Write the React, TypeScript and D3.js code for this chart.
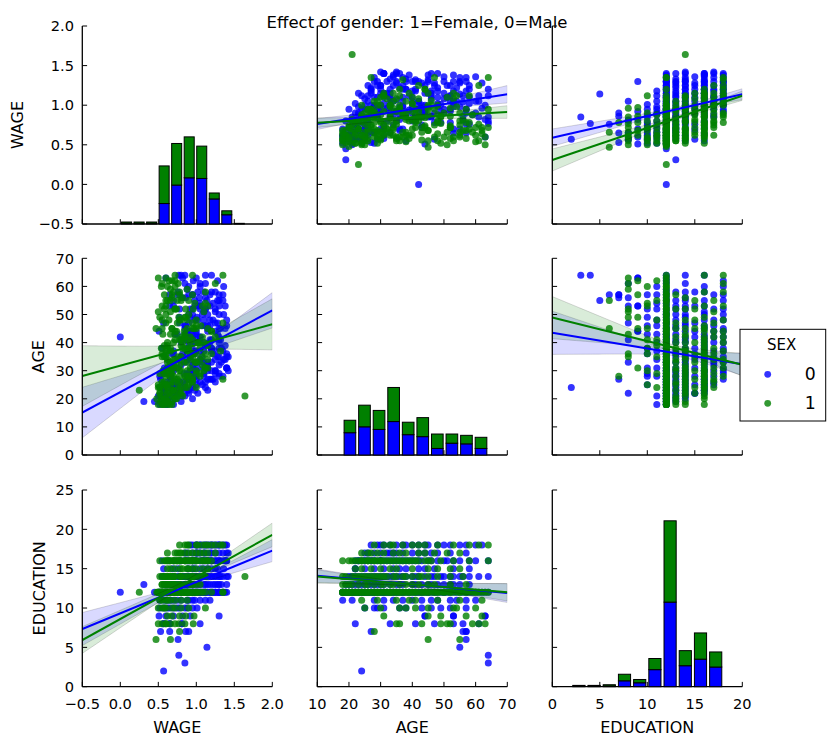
import React from "react";
import * as d3 from "d3";

// ---------- canvas / layout ----------
const W = 834;
const H = 750;
const FONT = "'DejaVu Sans', sans-serif";
const COL_LEFT = [82.3, 317.3, 552.3];
const CELL_W = 190;
const ROW_TOP = [26, 258.3, 490];
const ROW_BOTTOM = [224, 455, 686.7];

// ---------- categories ----------
const TITLE = "Effect of gender: 1=Female, 0=Male";
const VARIABLES = ["WAGE", "AGE", "EDUCATION"];
const SEX_LEVELS = ["0", "1"];
const SEX_COLORS = ["#0000ff", "#008000"];

// ---------- axes ----------
const X_DOMAINS = [[-0.5, 2.0], [10, 70], [0, 20]];
const Y_DOMAINS = [[-0.5, 2.0], [0, 70], [0, 25]];
const X_TICKS = [[-0.5, 0, 0.5, 1, 1.5, 2], [10, 20, 30, 40, 50, 60, 70], [0, 5, 10, 15, 20]];
const X_TICK_LABELS = [["−0.5", "0.0", "0.5", "1.0", "1.5", "2.0"], ["10", "20", "30", "40", "50", "60", "70"], ["0", "5", "10", "15", "20"]];
const Y_TICKS = [[-0.5, 0, 0.5, 1, 1.5, 2], [0, 10, 20, 30, 40, 50, 60, 70], [0, 5, 10, 15, 20, 25]];
const Y_TICK_LABELS = [["−0.5", "0.0", "0.5", "1.0", "1.5", "2.0"], ["0", "10", "20", "30", "40", "50", "60", "70"], ["0", "5", "10", "15", "20", "25"]];

// ---------- diagonal histograms (10 bins, stacked: SEX 0 then SEX 1) ----------
const HIST_RANGES = [[0, 1.6484], [18, 64], [2, 18]];
const HIST_COUNT_MAX = 300;
const WAGE_HIST_MALE = [1, 1, 1, 31, 59, 70, 69, 38, 14, 0];
const WAGE_HIST_FEMALE = [2, 2, 2, 57, 63, 62, 49, 9, 6, 1];
const AGE_HIST_MALE = [34, 43, 39, 51, 31, 28, 10, 18, 17, 10];
const AGE_HIST_FEMALE = [19, 33, 29, 52, 19, 29, 22, 14, 13, 17];
const EDU_HIST_MALE = [1, 1, 1, 9, 6, 26, 129, 32, 42, 30];
const EDU_HIST_FEMALE = [1, 1, 2, 10, 5, 17, 124, 23, 40, 23];

// ---------- scatter data: [EDUCATION, [[AGE, WAGE], ...]] ----------
const MALE_GROUPS: [number, number[][]][] = [
  [2, [[24, 0.57]]],
  [3, [[64, 0.85]]],
  [4, [[64, 0.77]]],
  [5, [[55, 1.14]]],
  [6, [[57, 0.76]]],
  [7, [[57, 0.9], [56, 0.86], [27, 0.53], [57, 0.65]]],
  [8, [[61, 1.05], [56, 0.81], [53, 0.65], [47, 0.57], [41, 0.81], [33, 0.65], [22, 0.57]]],
  [9, [[63, 0.82], [53, 1.3], [44, 0.51], [44, 0.92], [63, 0.6], [53, 0.7]]],
  [10, [[57, 0.95], [49, 1.01], [46, 0.85], [43, 0.75], [36, 0.7], [31, 0.62], [29, 0.57], [28, 0.52], [25, 0.65], [38, 0.88], [52, 0.78]]],
  [11, [[57, 1.18], [54, 1.05], [52, 0.95], [46, 1.12], [43, 0.88], [37, 0.7], [34, 0.75], [31, 0.58], [21, 0.52], [18, 0.62], [40, 0.8], [28, 0.66], [48, 0.98], [60, 0.9]]],
  [12, [[18, 0.52], [18, 0.6], [19, 0.66], [19, 0.45], [20, 0.55], [20, 0.72], [21, 0.62], [21, 0.8], [22, 0.58], [22, 0.9], [23, 0.68], [23, 0.75], [24, 0.85], [24, 0.62], [25, 0.95], [25, 0.7], [26, 1.05], [26, 0.78], [27, 0.88], [27, 1.18], [28, 0.98], [28, 0.66], [29, 1.1], [29, 0.84], [30, 1.25], [30, 0.92], [31, 1.02], [31, 0.74], [32, 1.3], [32, 0.96], [33, 1.15], [34, 0.88], [34, 1.38], [35, 1.07], [36, 0.82], [36, 1.22], [37, 0.99], [38, 1.33], [39, 1.12], [40, 0.9], [41, 1.2], [42, 0.0], [42, 1.05], [43, 1.28], [44, 0.95], [45, 1.15], [46, 0.86], [47, 1.25], [48, 1.02], [49, 0.78], [50, 1.36], [51, 1.1], [52, 0.92], [53, 1.18], [55, 0.7], [56, 1.04], [57, 1.3], [59, 0.88], [61, 1.12], [62, 0.96], [64, 0.8],
    [18, 0.7], [19, 0.8], [20, 0.95], [21, 0.5], [22, 1.02], [23, 0.88], [24, 1.12], [25, 0.58], [26, 1.25], [27, 0.66], [28, 1.35], [30, 0.7], [31, 1.4], [33, 0.86], [35, 1.3], [37, 1.2], [39, 0.94], [41, 0.85], [43, 1.0], [45, 1.3], [47, 0.9], [50, 1.08], [54, 1.22], [58, 1.1], [63, 1.0]]],
  [13, [[19, 0.31], [20, 0.58], [22, 0.7], [24, 0.85], [26, 0.62], [28, 1.1], [30, 0.95], [33, 1.33], [35, 0.8], [37, 1.25], [40, 1.05], [43, 0.72], [46, 1.18], [50, 0.9], [53, 1.02], [55, 1.28], [58, 0.76], [48, 1.4],
    [21, 0.66], [23, 0.98], [25, 0.75], [27, 1.22], [29, 0.88], [31, 1.15], [36, 0.68], [41, 1.3], [45, 0.85], [52, 1.12]]],
  [14, [[20, 0.62], [22, 0.75], [23, 0.9], [24, 0.55], [25, 1.0], [26, 0.82], [27, 1.15], [29, 0.95], [30, 1.42], [31, 0.7], [33, 1.2], [34, 1.05], [36, 0.88], [38, 1.3], [40, 1.1], [42, 0.92], [44, 1.25], [47, 0.78], [50, 1.15], [53, 0.98], [55, 1.35], [58, 1.02], [61, 0.85], [64, 1.2],
    [21, 0.85], [28, 1.3], [32, 0.8], [35, 1.4], [37, 0.98], [41, 1.32], [46, 1.08], [49, 0.92], [52, 1.25], [56, 1.12]]],
  [15, [[22, 0.57], [25, 0.69], [28, 0.89], [31, 1.1], [34, 1.36], [38, 1.2], [42, 0.95], [47, 1.28], [53, 1.05], [22, 0.76], [36, 0.98], [44, 1.15], [58, 1.25]]],
  [16, [[22, 0.64], [23, 0.8], [24, 0.95], [25, 1.08], [26, 0.72], [27, 1.2], [28, 0.88], [29, 1.3], [30, 1.0], [31, 1.4], [32, 1.15], [34, 0.92], [35, 1.28], [37, 1.05], [39, 1.38], [41, 1.18], [43, 0.85], [45, 1.32], [48, 1.1], [51, 1.25], [55, 0.98], [60, 1.36], [64, 1.12], [38, 0.55],
    [23, 1.15], [25, 0.78], [27, 0.9], [30, 1.25], [33, 1.08], [36, 1.4], [40, 0.98], [42, 1.3], [46, 1.15], [50, 0.95], [53, 1.38], [58, 1.2]]],
  [17, [[25, 0.85], [28, 1.0], [30, 1.2], [32, 0.95], [35, 1.42], [37, 1.1], [40, 1.3], [44, 0.88], [48, 1.18], [52, 1.05], [57, 1.35], [33, 1.02], [26, 1.12], [34, 1.25], [42, 1.0], [46, 1.4]]],
  [18, [[27, 1.0], [29, 1.25], [31, 1.4], [33, 1.1], [35, 0.92], [37, 1.35], [40, 1.18], [42, 1.05], [45, 1.38], [48, 1.22], [52, 1.12], [55, 1.3], [57, 0.95], [62, 1.28], [30, 1.15], [38, 1.2], [44, 1.0], [50, 1.3], [60, 1.05]]],
];

const FEMALE_GROUPS: [number, number[][]][] = [
  [6, [[55, 0.66], [45, 0.47]]],
  [7, [[28, 0.78]]],
  [8, [[63, 0.6], [61, 0.55], [59, 0.66], [52, 0.72], [51, 0.5], [49, 0.77], [43, 0.85], [36, 0.96], [35, 0.6]]],
  [9, [[62, 0.68], [57, 0.78], [49, 0.86], [45, 0.97], [31, 0.62]]],
  [10, [[60, 0.72], [54, 1.12], [53, 0.6], [41, 0.8], [36, 0.55], [25, 0.5], [45, 0.68], [38, 0.9], [30, 0.58]]],
  [11, [[62, 0.72], [41, 0.88], [39, 0.62], [35, 0.55], [29, 0.66], [48, 0.8], [24, 0.52], [55, 0.6]]],
  [12, [[18, 0.5], [18, 0.56], [18, 0.62], [19, 0.53], [19, 0.68], [20, 0.48], [20, 0.6], [20, 0.74], [21, 0.55], [21, 0.82], [22, 0.64], [22, 0.52], [23, 0.25], [23, 0.7], [23, 0.58], [24, 0.88], [24, 0.62], [25, 0.76], [25, 0.55], [26, 0.94], [26, 0.66], [27, 0.72], [27, 1.35], [28, 0.6], [28, 0.85], [29, 1.0], [29, 0.68], [30, 0.78], [30, 0.56], [31, 0.92], [32, 0.7], [32, 1.08], [33, 0.62], [33, 0.84], [34, 0.96], [35, 0.58], [35, 0.76], [36, 1.12], [37, 0.66], [37, 0.88], [38, 0.54], [39, 0.8], [40, 1.02], [40, 0.62], [41, 0.72], [42, 0.92], [43, 0.56], [44, 0.84], [45, 0.68], [46, 1.06], [47, 0.6], [47, 1.35], [48, 0.78], [49, 0.52], [50, 0.9], [51, 0.66], [52, 0.74], [53, 0.55], [54, 0.98], [55, 0.62], [56, 0.82], [57, 0.58], [58, 0.7], [59, 0.88], [60, 0.54], [61, 0.76], [62, 0.64], [63, 0.5], [64, 0.72], [44, 1.2],
    [18, 0.68], [19, 0.6], [20, 0.54], [21, 0.7], [22, 0.78], [24, 0.5], [25, 0.9], [26, 0.58], [28, 0.7], [29, 0.52], [31, 0.64], [33, 1.0], [34, 0.72], [36, 0.6], [38, 0.82], [39, 0.58], [41, 0.95], [43, 0.66], [45, 0.55], [48, 0.64], [50, 0.6], [52, 0.86], [55, 0.75], [57, 0.68], [60, 0.62]]],
  [13, [[18, 0.55], [21, 0.66], [23, 0.78], [25, 0.6], [28, 0.92], [31, 0.7], [34, 1.05], [38, 0.62], [42, 0.85], [47, 0.75], [52, 0.58], [57, 0.95],
    [19, 0.62], [20, 0.72], [26, 0.55], [30, 0.8], [33, 0.66], [36, 0.95], [40, 0.7], [45, 1.0]]],
  [14, [[21, 1.64], [18, 0.58], [23, 0.7], [24, 0.52], [26, 0.85], [28, 0.65], [30, 1.0], [32, 0.78], [35, 0.92], [37, 0.6], [40, 1.1], [43, 0.72], [45, 0.88], [48, 0.55], [52, 0.96], [56, 0.68],
    [19, 0.62], [22, 0.8], [25, 0.66], [27, 0.95], [29, 0.58], [31, 1.12], [34, 0.7], [38, 1.05], [42, 0.8]]],
  [15, [[24, 0.79], [27, 0.95], [30, 0.66], [35, 1.08], [40, 0.82], [45, 1.15], [52, 0.72], [55, 0.9], [22, 0.62], [33, 0.88], [48, 1.0]]],
  [16, [[18, 0.65], [22, 0.52], [23, 0.7], [24, 0.85], [25, 0.6], [26, 0.95], [27, 0.75], [28, 1.05], [29, 0.62], [30, 0.88], [31, 1.12], [32, 0.7], [33, 0.98], [35, 0.8], [36, 1.2], [38, 0.66], [40, 0.92], [42, 1.08], [44, 0.74], [46, 1.0], [49, 0.85], [53, 1.15], [58, 0.78], [64, 0.95],
    [20, 0.58], [21, 0.75], [24, 1.0], [26, 0.7], [28, 0.86], [30, 1.1], [34, 0.62], [37, 0.9], [39, 1.15], [41, 0.78], [45, 0.95]]],
  [17, [[24, 0.62], [27, 0.9], [29, 1.05], [31, 0.75], [34, 1.15], [38, 0.85], [42, 1.25], [47, 0.95], [51, 1.1], [55, 0.8], [26, 0.78], [36, 1.0], [44, 0.72]]],
  [18, [[28, 0.9], [31, 1.15], [34, 0.78], [37, 1.32], [40, 1.02], [44, 1.2], [48, 0.88], [53, 1.08], [61, 1.25], [64, 1.35], [33, 1.0], [42, 0.85], [58, 1.12]]],
];

// ---------- regression fits ----------
// [row, col, sex, yAtXmin, yAtXmax, xMean, halfAtMean, halfAtXmin, halfAtXmax]
const REG_FITS: number[][] = [
  [0, 1, 0, 0.763, 1.138, 37, 0.025, 0.07, 0.11],
  [0, 1, 1, 0.779, 0.914, 37, 0.025, 0.06, 0.08],
  [0, 2, 0, 0.59, 1.138, 13, 0.025, 0.11, 0.07],
  [0, 2, 1, 0.308, 1.12, 13, 0.025, 0.14, 0.06],
  [1, 0, 0, 15.1, 51.5, 0.88, 1.2, 9, 6.3],
  [1, 0, 1, 28.1, 46.5, 0.88, 1.5, 10.8, 9.1],
  [1, 2, 0, 43.5, 32.3, 13, 1.0, 7.7, 4],
  [1, 2, 1, 48.9, 32.1, 13, 1.0, 7.5, 4],
  [2, 0, 0, 7.33, 17.3, 0.88, 0.3, 2.1, 1.4],
  [2, 0, 1, 5.93, 19.3, 0.88, 0.3, 1.7, 1.5],
  [2, 1, 0, 14.1, 11.9, 37, 0.25, 0.85, 1.2],
  [2, 1, 1, 14.0, 12.0, 37, 0.25, 0.85, 1.1],
];

// records as [WAGE, AGE, EDUCATION]
function flatten(groups: [number, number[][]][]) {
  const out: number[][] = [];
  groups.forEach(([edu, pts]) => pts.forEach(([age, wage]) => out.push([wage, age, edu])));
  return out;
}
const RECORDS = [flatten(MALE_GROUPS), flatten(FEMALE_GROUPS)];
const HIST_MALE = [WAGE_HIST_MALE, AGE_HIST_MALE, EDU_HIST_MALE];
const HIST_FEMALE = [WAGE_HIST_FEMALE, AGE_HIST_FEMALE, EDU_HIST_FEMALE];

const TICK_LEN = 4.8;
const TICK_FS = 14.6;
const LABEL_FS = 16;
const SPINE_W = 1.3;

function scales(r: number, c: number) {
  const x = d3.scaleLinear().domain(X_DOMAINS[c]).range([COL_LEFT[c], COL_LEFT[c] + CELL_W]);
  const y = d3.scaleLinear().domain(Y_DOMAINS[r]).range([ROW_BOTTOM[r], ROW_TOP[r]]);
  return { x, y };
}

function Axes({ r, c }: { r: number; c: number }) {
  const { x, y } = scales(r, c);
  const x0 = COL_LEFT[c];
  const x1 = COL_LEFT[c] + CELL_W;
  const yb = ROW_BOTTOM[r];
  const yt = ROW_TOP[r];
  return (
    <g>
      <line x1={x0} x2={x1} y1={yb} y2={yb} stroke="#000" strokeWidth={SPINE_W} />
      <line x1={x0} x2={x0} y1={yt} y2={yb} stroke="#000" strokeWidth={SPINE_W} />
      {X_TICKS[c].map((t, i) => (
        <g key={"xt" + i}>
          <line x1={x(t)} x2={x(t)} y1={yb} y2={yb - TICK_LEN} stroke="#000" strokeWidth={1} />
          {r === 2 && (
            <text x={x(t)} y={yb + 22} textAnchor="middle" fontSize={TICK_FS} fontFamily={FONT}>
              {X_TICK_LABELS[c][i]}
            </text>
          )}
        </g>
      ))}
      {Y_TICKS[r].map((t, i) => (
        <g key={"yt" + i}>
          <line x1={x0} x2={x0 + TICK_LEN} y1={y(t)} y2={y(t)} stroke="#000" strokeWidth={1} />
          {c === 0 && (
            <text x={x0 - 8.3} y={y(t) + 5.2} textAnchor="end" fontSize={TICK_FS} fontFamily={FONT}>
              {Y_TICK_LABELS[r][i]}
            </text>
          )}
        </g>
      ))}
    </g>
  );
}

function Hist({ i }: { i: number }) {
  const { x } = scales(i, i);
  const hy = d3.scaleLinear().domain([0, HIST_COUNT_MAX]).range([ROW_BOTTOM[i], ROW_TOP[i]]);
  const [lo, hi] = HIST_RANGES[i];
  const bw = (hi - lo) / HIST_MALE[i].length;
  return (
    <g>
      {HIST_MALE[i].map((m, k) => {
        const f = HIST_FEMALE[i][k];
        const bx0 = x(lo + bw * (k + 0.1));
        const bx1 = x(lo + bw * (k + 0.9));
        return (
          <g key={k}>
            <rect x={bx0} y={hy(m)} width={bx1 - bx0} height={hy(0) - hy(m)} fill={SEX_COLORS[0]} stroke="#000" strokeWidth={1} />
            <rect x={bx0} y={hy(m + f)} width={bx1 - bx0} height={hy(m) - hy(m + f)} fill={SEX_COLORS[1]} stroke="#000" strokeWidth={1} />
          </g>
        );
      })}
    </g>
  );
}

function Band({ fit }: { fit: number[] }) {
  const [r, c, sex, yL, yR, xm, h0, hL, hR] = fit;
  const { x, y } = scales(r, c);
  const [xa, xb] = X_DOMAINS[c];
  const slope = (yR - yL) / (xb - xa);
  const kL = (hL * hL - h0 * h0) / ((xm - xa) * (xm - xa));
  const kR = (hR * hR - h0 * h0) / ((xb - xm) * (xb - xm));
  const grid = d3.range(0, 81).map((k) => xa + ((xb - xa) * k) / 80);
  const pts = grid.map((gx) => {
    const yh = yL + slope * (gx - xa);
    const k = gx < xm ? kL : kR;
    const h = Math.sqrt(h0 * h0 + k * (gx - xm) * (gx - xm));
    return { gx, yh, lo: yh - h, hi: yh + h };
  });
  const area = d3
    .area<{ gx: number; lo: number; hi: number }>()
    .x((d) => x(d.gx))
    .y0((d) => y(d.lo))
    .y1((d) => y(d.hi));
  return (
    <path d={area(pts) || ""} fill={SEX_COLORS[sex]} fillOpacity={0.15} stroke="#000" strokeOpacity={0.15} strokeWidth={1} />
  );
}

function RegLine({ fit }: { fit: number[] }) {
  const [r, c, sex, yL, yR] = fit;
  const { x, y } = scales(r, c);
  const [xa, xb] = X_DOMAINS[c];
  const line = d3.line<number[]>().x((d) => x(d[0])).y((d) => y(d[1]));
  return <path d={line([[xa, yL], [xb, yR]]) || ""} fill="none" stroke={SEX_COLORS[sex]} strokeWidth={2} />;
}

function ScatterCell({ r, c }: { r: number; c: number }) {
  const { x, y } = scales(r, c);
  const clipId = `clip-${r}-${c}`;
  const fits = REG_FITS.filter((f) => f[0] === r && f[1] === c);
  return (
    <g>
      <defs>
        <clipPath id={clipId}>
          <rect x={COL_LEFT[c]} y={ROW_TOP[r]} width={CELL_W} height={ROW_BOTTOM[r] - ROW_TOP[r]} />
        </clipPath>
      </defs>
      <g clipPath={`url(#${clipId})`}>
        {[0, 1].map((sex) => (
          <g key={sex}>
            {RECORDS[sex].map((rec, k) => (
              <circle key={k} cx={x(rec[c])} cy={y(rec[r])} r={3.5} fill={SEX_COLORS[sex]} fillOpacity={0.8} />
            ))}
            {fits.filter((f) => f[2] === sex).map((f, k) => (
              <Band key={k} fit={f} />
            ))}
          </g>
        ))}
        {fits.map((f, k) => (
          <RegLine key={k} fit={f} />
        ))}
      </g>
    </g>
  );
}

export default function App() {
  const cells: React.ReactNode[] = [];
  for (let r = 0; r < 3; r++) {
    for (let c = 0; c < 3; c++) {
      if (r === c) {
        cells.push(
          <g key={`${r}-${c}`}>
            <Axes r={r} c={c} />
            <Hist i={r} />
          </g>
        );
      } else {
        cells.push(
          <g key={`${r}-${c}`}>
            <ScatterCell r={r} c={c} />
            <Axes r={r} c={c} />
          </g>
        );
      }
    }
  }
  const yLabelX = [22.8, 43.5, 44.5];
  return (
    <svg
      width={W}
      height={H}
      viewBox={`0 0 ${W} ${H}`}
      style={{ position: "absolute", left: 0, top: 0, display: "block", background: "#fff" }}
      fontFamily={FONT}
    >
      <rect x={0} y={0} width={W} height={H} fill="#fff" />
      <text x={417} y={28.3} textAnchor="middle" fontSize={16.5} fontFamily={FONT}>
        {TITLE}
      </text>
      {cells}
      {VARIABLES.map((v, i) => (
        <text
          key={"yl" + i}
          transform={`translate(${yLabelX[i]},${(ROW_TOP[i] + ROW_BOTTOM[i]) / 2}) rotate(-90)`}
          textAnchor="middle"
          fontSize={LABEL_FS}
          fontFamily={FONT}
        >
          {v}
        </text>
      ))}
      {VARIABLES.map((v, i) => (
        <text key={"xl" + i} x={COL_LEFT[i] + CELL_W / 2} y={733} textAnchor="middle" fontSize={LABEL_FS} fontFamily={FONT}>
          {v}
        </text>
      ))}
      <g>
        <rect x={740} y={329.3} width={85.7} height={91.7} fill="#fff" stroke="#000" strokeWidth={1} />
        <text x={781.7} y={350} textAnchor="middle" fontSize={15} fontFamily={FONT}>
          SEX
        </text>
        {SEX_LEVELS.map((lvl, i) => (
          <g key={lvl}>
            <circle cx={767.7} cy={374.3 + i * 29} r={3.4} fill={SEX_COLORS[i]} fillOpacity={0.8} />
            <text x={815.7} y={380.3 + i * 29} textAnchor="end" fontSize={17.3} fontFamily={FONT}>
              {lvl}
            </text>
          </g>
        ))}
      </g>
    </svg>
  );
}
